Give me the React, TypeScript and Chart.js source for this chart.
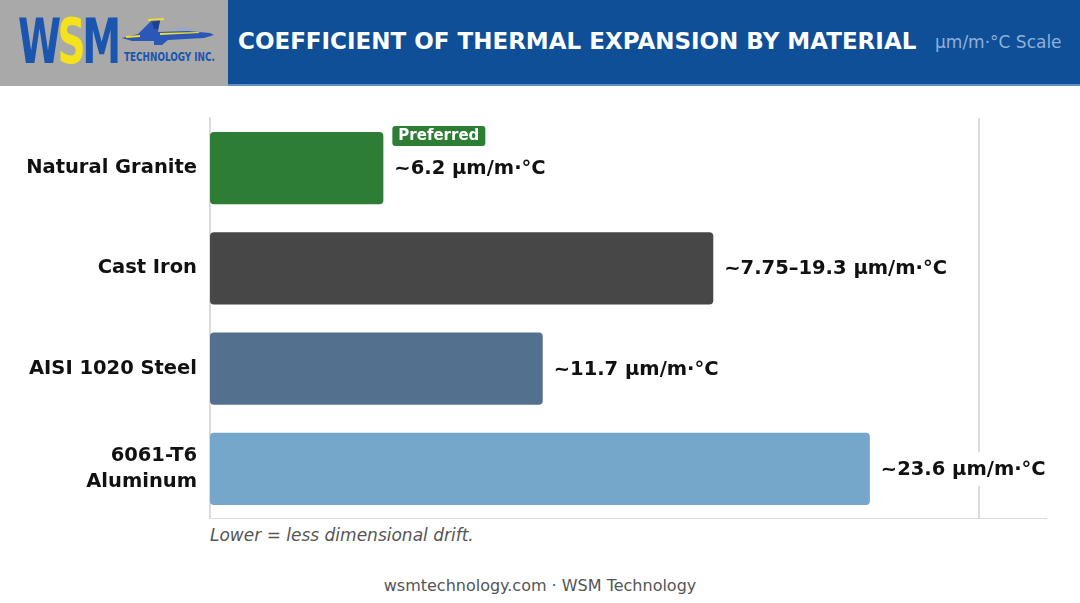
import { useEffect, useRef } from "react";
import { Chart, registerables } from "chart.js";

Chart.register(...registerables);

// data
const materials: (string | string[])[] = ["Natural Granite", "Cast Iron", "AISI 1020 Steel", ["6061-T6", "Aluminum"]];
const barValues = [6.2, 18, 11.9, 23.6];
const valueLabels = ["~6.2 µm/m·°C", "~7.75–19.3 µm/m·°C", "~11.7 µm/m·°C", "~23.6 µm/m·°C"];
const badges = ["Preferred", "", "", ""];
const barColors = ["#2e7d34", "#474747", "#53708f", "#74a7c9"];
const gridTicks = [27.5];

const FONT = "'DejaVu Sans', sans-serif";

const valueLabelPlugin = {
  id: "valueLabels",
  afterDatasetsDraw(chart: Chart) {
    const ctx = chart.ctx;
    const meta = chart.getDatasetMeta(0);
    ctx.save();
    meta.data.forEach((bar: any, i: number) => {
      const x = bar.x + 11;
      const y = bar.y;
      ctx.font = `700 19.5px ${FONT}`;
      ctx.textBaseline = "middle";
      ctx.textAlign = "left";
      const w = ctx.measureText(valueLabels[i]).width;
      ctx.fillStyle = "#ffffff";
      ctx.fillRect(x - 2, y - 17, w + 4, 34);
      ctx.fillStyle = "#111111";
      ctx.fillText(valueLabels[i], x, y + 1);

      if (badges[i]) {
        ctx.font = `700 15px ${FONT}`;
        const bw = ctx.measureText(badges[i]).width + 12;
        const bx = x - 2;
        const by = bar.y - bar.height / 2 - 6;
        ctx.fillStyle = barColors[i];
        ctx.beginPath();
        ctx.roundRect(bx, by, bw, 20, 3);
        ctx.fill();
        ctx.fillStyle = "#ffffff";
        ctx.fillText(badges[i], bx + 6, by + 10.5);
      }
    });
    ctx.restore();
  },
};

function MaterialChart() {
  const chartRef = useRef<HTMLCanvasElement>(null);
  const chartInstance = useRef<Chart | null>(null);

  useEffect(() => {
    if (!chartRef.current) return;
    if (chartInstance.current) chartInstance.current.destroy();
    const ctx = chartRef.current.getContext("2d");
    if (!ctx) return;

    chartInstance.current = new Chart(ctx, {
      type: "bar",
      data: {
        labels: materials,
        datasets: [
          {
            data: barValues,
            backgroundColor: barColors,
            borderRadius: 4,
            borderSkipped: false,
            categoryPercentage: 0.72,
            barPercentage: 1,
          },
        ],
      },
      plugins: [valueLabelPlugin],
      options: {
        indexAxis: "y",
        animation: false,
        responsive: true,
        maintainAspectRatio: false,
        layout: { padding: { top: 18, right: 34, bottom: 0, left: 0 } },
        plugins: {
          legend: { display: false },
          tooltip: { enabled: false },
        },
        scales: {
          x: {
            min: 0,
            max: 29.9,
            afterBuildTicks: (scale: any) => {
              scale.ticks = gridTicks.map((v) => ({ value: v }));
            },
            afterFit: (scale: any) => {
              scale.height = 0;
              scale.paddingLeft = 0;
              scale.paddingRight = 0;
            },
            ticks: { display: false },
            grid: { color: "#dcdcdc", lineWidth: 2, drawTicks: false },
            border: { color: "#dcdcdc", width: 2 },
          },
          y: {
            afterFit: (scale: any) => {
              scale.width = 210;
              scale.paddingTop = 0;
              scale.paddingBottom = 0;
            },
            grid: { display: false, drawTicks: false },
            border: { color: "#dcdcdc", width: 2 },
            ticks: {
              color: "#111111",
              padding: 13,
              font: { family: FONT, size: 19.5, weight: "bold", lineHeight: 1.3 },
            },
          },
        },
      },
    });

    return () => {
      if (chartInstance.current) {
        chartInstance.current.destroy();
        chartInstance.current = null;
      }
    };
  }, []);

  return (
    <div style={{ position: "absolute", left: 0, top: 100, width: 1080, height: 419 }}>
      <canvas ref={chartRef}></canvas>
    </div>
  );
}

function Jet() {
  return (
    <svg width="100" height="40" viewBox="0 0 100 40" style={{ position: "absolute", left: 118, top: 12 }}>
      <path d="M4 26 L20 22 L34 8 L42 8 L40 20 L70 19 L92 21 L96 23 L86 26 L50 28 L44 33 L36 33 L36 29 L14 29 Z" fill="#2b57b8" />
      <path d="M34 10 L42 9 L40 17 L36 17 Z" fill="#1d3f8e" />
      <path d="M42 21 L80 20 L82 21 L42 23 Z" fill="#f0de2a" />
      <path d="M30 7 L46 6 L46 8 L30 9 Z" fill="#f0de2a" />
      <path d="M8 24 L22 23 L22 25 L8 26 Z" fill="#f0de2a" />
      <path d="M56 17 Q66 14 74 18 Z" fill="#8aa8d8" />
    </svg>
  );
}

export default function App() {
  useEffect(() => {
    document.body.style.margin = "0";
  }, []);

  const narrow = "'Liberation Sans Narrow', 'DejaVu Sans Condensed', sans-serif";

  return (
    <div
      style={{
        position: "fixed",
        left: 0,
        top: 0,
        width: 1080,
        height: 603,
        background: "#ffffff",
        fontFamily: FONT,
        overflow: "hidden",
      }}
    >
      <div style={{ position: "absolute", left: 0, top: 0, width: 1080, height: 84, background: "#0e4f98", borderBottom: "2px solid #5f8fc4" }} />
      <div style={{ position: "absolute", left: 0, top: 0, width: 228, height: 86, background: "#a9a9a9", overflow: "hidden" }}>
        <div
          style={{
            position: "absolute",
            left: 18,
            top: 11,
            fontFamily: narrow,
            fontWeight: 700,
            fontSize: 62,
            lineHeight: "62px",
            letterSpacing: -5,
            transform: "scaleX(0.7)",
            transformOrigin: "left",
            whiteSpace: "nowrap",
          }}
        >
          <span style={{ color: "#1a55b0" }}>W</span>
          <span style={{ color: "#f4e21c" }}>S</span>
          <span style={{ color: "#1a55b0" }}>M</span>
        </div>
        <Jet />
        <div
          style={{
            position: "absolute",
            left: 124,
            top: 50,
            color: "#1a55b0",
            fontFamily: narrow,
            fontWeight: 700,
            fontSize: 12,
            lineHeight: "14px",
            whiteSpace: "nowrap",
            transform: "scaleX(0.82)",
            transformOrigin: "left",
          }}
        >
          TECHNOLOGY INC.
        </div>
      </div>
      <div
        style={{
          position: "absolute",
          left: 238,
          top: 26,
          color: "#ffffff",
          fontWeight: 700,
          fontSize: 23,
          lineHeight: "30px",
          whiteSpace: "nowrap",
        }}
      >
        COEFFICIENT OF THERMAL EXPANSION BY MATERIAL
      </div>
      <div
        style={{
          position: "absolute",
          left: 935,
          top: 31,
          color: "#8fb1d8",
          fontSize: 17,
          lineHeight: "22px",
          whiteSpace: "nowrap",
        }}
      >
        µm/m·°C Scale
      </div>

      <MaterialChart />

      <div
        style={{
          position: "absolute",
          left: 210,
          top: 524,
          color: "#555555",
          fontStyle: "italic",
          fontSize: 17,
          lineHeight: "22px",
        }}
      >
        Lower = less dimensional drift.
      </div>
      <div
        style={{
          position: "absolute",
          left: 0,
          width: 1080,
          top: 575,
          textAlign: "center",
          color: "#555555",
          fontSize: 16,
          lineHeight: "22px",
        }}
      >
        wsmtechnology.com · WSM Technology
      </div>
    </div>
  );
}
